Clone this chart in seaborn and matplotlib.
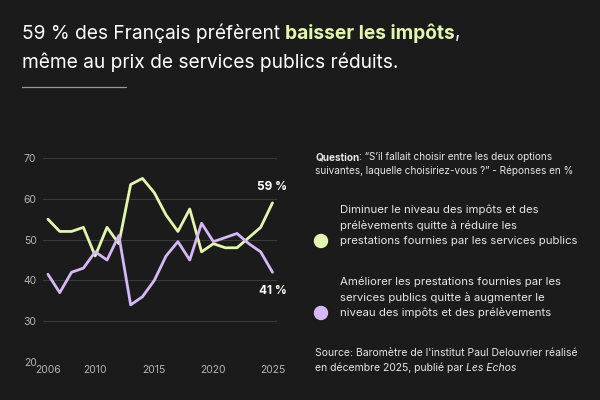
import matplotlib
matplotlib.use("Agg")
import matplotlib.pyplot as plt
from matplotlib.patches import Circle
import seaborn as sns
import pandas as pd

# données
years = list(range(2006, 2026))
baisser = [55, 52, 52, 53, 46, 53, 49, 63.5, 65, 61.5, 56, 52, 57.5, 47, 49, 48, 48, 50.5, 53, 59]
ameliorer = [41.5, 37, 42, 43, 47, 45, 51, 34, 36, 40, 46, 49.5, 45, 54, 49.5, 50.5, 51.5, 49, 47, 42]
y_ticks = [20, 30, 40, 50, 60, 70]
x_ticks = [2006, 2010, 2015, 2020, 2025]
end_labels = ["59 %", "41 %"]

BG = "#1b1b1b"
GREEN = "#e3f6b0"
PURPLE = "#d6b8f6"
GRID = "#3a3a3a"
TICK = "#b4b4b4"

sns.set_style("dark")
plt.rcParams["font.family"] = ["Inter", "DejaVu Sans"]

df = pd.DataFrame({"annee": years * 2,
                   "valeur": baisser + ameliorer,
                   "serie": ["baisser"] * len(years) + ["ameliorer"] * len(years)})

fig = plt.figure(figsize=(6, 4), dpi=100, facecolor=BG)
ax = fig.add_axes([0.072, 0.095, 0.39, 0.51], facecolor=BG)

sns.lineplot(data=df, x="annee", y="valeur", hue="serie",
             palette={"baisser": GREEN, "ameliorer": PURPLE},
             linewidth=2, legend=False, ax=ax)

ax.set_xlim(2005.6, 2025.4)
ax.set_ylim(20, 70)
ax.set_yticks(y_ticks)
ax.set_xticks(x_ticks)
ax.grid(axis="y", color=GRID, linewidth=0.8)
ax.grid(axis="x", visible=False)
for s in ax.spines.values():
    s.set_visible(False)
ax.tick_params(axis="both", colors=TICK, labelsize=7.5, length=0, pad=2)
for lab in ax.get_yticklabels():
    lab.set_horizontalalignment("left")
ax.yaxis.set_tick_params(pad=14)
ax.set_xlabel("")
ax.set_ylabel("")

ax.text(2025, 63, end_labels[0], color="white", fontsize=8.5, fontweight="bold", ha="center", va="center")
ax.text(2025, 37.5, end_labels[1], color="white", fontsize=8.5, fontweight="bold", ha="center", va="center")

renderer = fig.canvas.get_renderer()


def seq_text(x, y, parts, **kw):
    # place des morceaux de texte l'un après l'autre sur la même ligne
    for txt, props in parts:
        t = fig.text(x, y, txt, **kw, **props)
        bb = t.get_window_extent(renderer=renderer)
        x += bb.width / fig.bbox.width
    return x


# titre
seq_text(22 / 600, 1 - 33 / 400,
         [("59 % des Français préfèrent ", {"color": "white"}),
          ("baisser les impôts", {"color": GREEN, "fontweight": "bold"}),
          (",", {"color": "white"})],
         fontsize=13.8, va="center")
fig.text(22 / 600, 1 - 62 / 400, "même au prix de services publics réduits.",
         color="white", fontsize=13.8, va="center")
fig.add_artist(plt.Line2D([22 / 600, 126 / 600], [1 - 87 / 400, 1 - 87 / 400],
                          color="#9a9a9a", linewidth=0.9, transform=fig.transFigure))

# question
seq_text(315 / 600, 1 - 157 / 400,
         [("Question", {"fontweight": "bold"}),
          (": “S’il fallait choisir entre les deux options", {})],
         fontsize=7.2, color="#e6e6e6", va="center")
fig.text(315 / 600, 1 - 171 / 400, "suivantes, laquelle choisiriez-vous ?” - Réponses en %",
         fontsize=7.2, color="#e6e6e6", va="center")

# légende
leg = [(GREEN, [210, 226, 241], ["Diminuer le niveau des impôts et des",
                                 "prélèvements quitte à réduire les",
                                 "prestations fournies par les services publics"]),
       (PURPLE, [282, 298, 313], ["Améliorer les prestations fournies par les",
                                  "services publics quitte à augmenter le",
                                  "niveau des impôts et des prélèvements"])]
for col, ys, lines in leg:
    for yy, line in zip(ys, lines):
        fig.text(340 / 600, 1 - yy / 400, line, fontsize=8.2, color="#e6e6e6", va="center")
    fig.add_artist(Circle((321, 400 - ys[-1]), 6.5, color=col, transform=None))

# source
fig.text(315 / 600, 1 - 353 / 400, "Source: Baromètre de l'institut Paul Delouvrier réalisé",
         fontsize=7.5, color="#e6e6e6", va="center")
seq_text(315 / 600, 1 - 368 / 400,
         [("en décembre 2025, publié par ", {}),
          ("Les Echos", {"fontstyle": "italic"})],
         fontsize=7.5, color="#e6e6e6", va="center")

fig.savefig("out.png", dpi=100, facecolor=BG)
